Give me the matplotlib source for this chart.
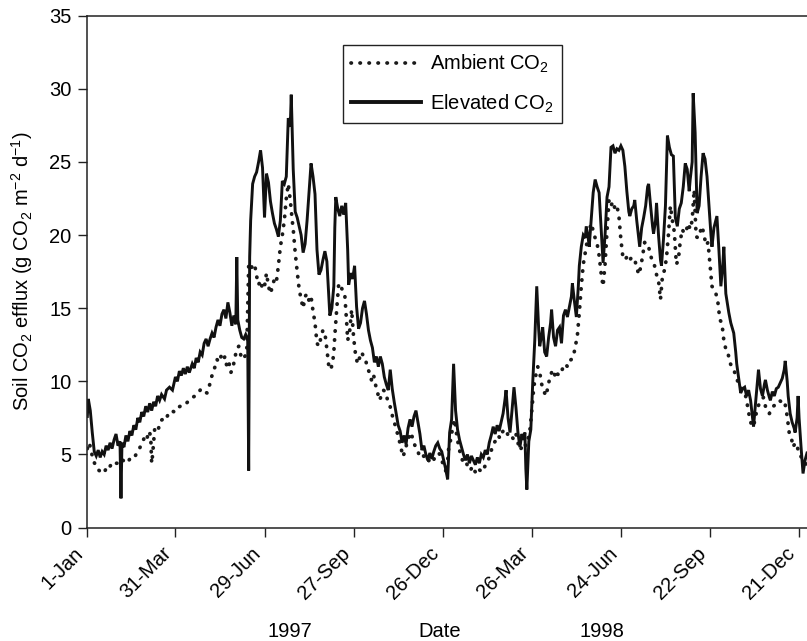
import matplotlib
matplotlib.use("Agg")
import matplotlib.pyplot as plt

plt.rcParams["font.family"] = ["Liberation Sans", "DejaVu Sans"]
plt.rcParams["mathtext.default"] = "regular"

# days since 1-Jan-1997
tick_days = [0, 89, 179, 269, 359, 449, 539, 629, 719]
tick_labels = ["1-Jan", "31-Mar", "29-Jun", "27-Sep", "26-Dec",
               "26-Mar", "24-Jun", "22-Sep", "21-Dec"]

elev_day = [0, 1, 3, 5, 7, 9, 11, 13, 15, 17, 19, 21, 23, 25, 27, 29, 31, 33, 34, 35,
            37, 39, 41, 43, 45, 47, 49, 51, 53, 55, 57, 59, 61, 63, 65, 67, 69, 71, 73, 75,
            78, 80, 83, 86, 89, 91, 93, 95, 97, 99, 101, 103, 106, 108, 110, 112, 114, 116, 118, 120,
            122, 124, 126, 128, 130, 132, 134, 136, 138, 140, 142, 144, 146, 148, 150, 151, 152, 154, 156, 158,
            160, 162, 163, 164, 165, 167, 169, 171, 173, 175, 177, 179, 181, 183, 185, 187, 189, 191, 193, 195,
            197, 199, 201, 203, 205, 206, 208, 210, 212, 214, 216, 218, 220, 222, 224, 226, 228, 230, 232, 234,
            236, 238, 240, 242, 244, 245, 247, 249, 250, 251, 253, 255, 257, 259, 261, 263, 264, 266, 268, 270,
            272, 274, 276, 278, 280, 282, 284, 286, 288, 290, 292, 294, 296, 298, 300, 302, 304, 306, 308, 310,
            312, 314, 316, 318, 320, 322, 324, 326, 328, 330, 332, 334, 336, 338, 340, 342, 344, 346, 348, 350,
            352, 354, 356, 358, 360, 362, 364, 366, 368, 370, 372, 374, 376, 378, 380, 382, 384, 386, 388, 390,
            392, 394, 396, 398, 400, 402, 404, 406, 408, 410, 412, 414, 416, 418, 420, 422, 423, 425, 427, 429,
            431, 433, 435, 437, 439, 441, 442, 443, 444, 446, 448, 450, 452, 454, 456, 457, 459, 460, 462, 464,
            466, 468, 469, 471, 473, 475, 477, 479, 481, 483, 485, 487, 489, 490, 492, 494, 496, 497, 499, 501,
            503, 504, 506, 507, 509, 511, 513, 515, 517, 519, 521, 523, 525, 527, 529, 531, 533, 535, 537, 539,
            541, 543, 545, 547, 548, 550, 552, 553, 555, 557, 558, 560, 562, 564, 566, 567, 569, 571, 572, 574,
            575, 577, 579, 580, 582, 584, 586, 588, 590, 592, 594, 596, 598, 600, 602, 604, 606, 608, 609, 611,
            612, 614, 616, 618, 620, 622, 624, 626, 628, 630, 631, 633, 636, 638, 640, 642, 643, 645, 648, 650,
            653, 655, 656, 658, 660, 662, 664, 666, 668, 670, 672, 673, 675, 677, 678, 680, 682, 684, 685, 687,
            689, 690, 692, 694, 696, 698, 700, 702, 704, 705, 707, 708, 710, 712, 714, 715, 717, 718, 719, 721,
            723, 725, 727]
elev_val = [7.6, 8.8, 8.0, 6.5, 5.2, 4.9, 5.3, 4.8, 5.2, 5.0, 5.6, 5.3, 5.8, 5.4, 6.0, 6.4, 5.6, 5.9, 2.0, 5.8,
            5.5, 6.3, 5.9, 6.6, 6.3, 7.0, 6.7, 7.5, 7.2, 7.9, 7.6, 8.3, 7.9, 8.5, 8.0, 8.6, 8.3, 9.0, 8.7, 9.1,
            8.8, 9.4, 9.6, 9.4, 10.3, 10.0, 10.7, 10.4, 10.9, 10.5, 11.0, 10.6, 11.2, 10.9, 11.6, 11.3, 12.0, 11.8, 12.6, 12.9,
            12.4, 12.9, 13.3, 13.0, 13.7, 14.2, 13.8, 14.6, 14.9, 14.3, 15.4, 14.7, 13.8, 14.5, 13.9, 18.5, 14.2, 13.5, 13.0, 12.9,
            13.2, 12.9, 3.9, 18.5, 21.0, 23.5, 24.0, 24.3, 25.0, 25.8, 24.6, 21.2, 24.2, 23.6, 22.3, 21.5, 20.8, 20.4, 19.9, 21.0,
            23.7, 23.5, 24.0, 28.0, 27.4, 29.6, 24.5, 21.6, 21.2, 20.6, 20.0, 18.8, 19.4, 21.0, 23.0, 24.9, 24.0, 22.8, 19.0, 17.3,
            17.6, 18.3, 18.9, 18.2, 15.8, 14.5, 15.0, 16.5, 20.5, 22.6, 21.8, 21.3, 22.0, 21.4, 22.2, 19.0, 16.6, 17.4, 17.0, 17.9,
            15.1, 13.6, 14.0, 15.0, 15.5, 14.6, 13.5, 12.8, 12.3, 11.3, 11.7, 11.0, 11.7, 11.2, 10.3, 9.8, 9.4, 10.8, 9.5, 8.6,
            7.8, 7.0, 6.6, 5.8, 6.3, 5.7, 6.8, 7.4, 6.9, 7.6, 8.0, 7.2, 6.4, 5.3, 5.6, 5.0, 4.6, 5.1, 4.7, 5.2,
            5.6, 5.8, 5.4, 5.2, 4.6, 4.0, 3.3, 6.5, 7.4, 11.2, 8.0, 6.7, 6.0, 5.5, 5.0, 4.6, 5.0, 4.4, 4.9, 4.6,
            4.3, 4.8, 4.4, 5.0, 4.8, 5.3, 5.0, 5.8, 6.3, 6.9, 6.4, 7.0, 6.6, 7.2, 7.8, 8.8, 9.4, 7.5, 6.5, 8.0,
            9.6, 8.2, 6.5, 5.5, 6.4, 6.0, 6.5, 4.0, 2.6, 5.9, 6.7, 10.0, 12.8, 16.5, 13.5, 12.4, 13.2, 13.7, 12.0, 11.7,
            13.0, 14.0, 14.9, 13.0, 12.4, 13.5, 13.7, 12.6, 14.5, 14.9, 14.4, 15.1, 15.8, 16.7, 15.5, 14.4, 16.5, 17.9, 19.2, 20.0,
            19.8, 20.6, 19.8, 19.2, 21.0, 22.9, 23.8, 23.3, 22.9, 20.5, 18.1, 20.0, 22.6, 23.3, 26.0, 26.1, 25.6, 25.9, 25.8, 26.1,
            25.8, 24.7, 23.0, 21.6, 21.3, 21.8, 22.0, 22.4, 21.0, 19.8, 19.2, 20.5, 21.2, 22.0, 23.3, 23.5, 22.0, 20.6, 20.1, 21.0,
            22.2, 20.0, 18.3, 17.9, 19.7, 22.0, 26.8, 26.0, 25.5, 25.4, 21.2, 20.6, 21.8, 22.2, 23.3, 24.9, 24.5, 23.0, 23.8, 25.0,
            29.7, 27.0, 21.5, 22.0, 24.0, 25.6, 25.2, 24.0, 22.0, 20.0, 19.2, 20.5, 21.3, 19.0, 16.5, 18.0, 19.2, 16.0, 14.7, 14.0,
            13.3, 12.0, 11.2, 10.2, 9.2, 9.5, 9.6, 9.0, 9.4, 8.7, 7.5, 6.9, 8.5, 10.0, 10.8, 9.5, 9.0, 9.8, 10.1, 9.4,
            8.9, 8.7, 9.3, 9.0, 9.5, 9.6, 9.9, 10.2, 10.8, 11.4, 10.0, 9.0, 7.8, 7.2, 6.8, 6.5, 7.5, 9.0, 7.5, 5.5,
            3.7, 4.6, 5.1]

amb_day = list(range(0, 64, 2)) + [64, 65, 66, 68, 70, 72, 74, 76, 78, 80, 82, 85, 88, 91, 94, 97, 100,
           103, 106, 109, 112, 115, 118, 121] + list(range(123, 208, 2)) + [208] + list(range(210, 250, 2)) + \
          [249, 250] + list(range(252, 262, 2)) + [262, 263] + list(range(265, 728, 2))
amb_val = [5.4, 5.8, 5.2, 4.6, 4.3, 4.0, 3.9, 3.8, 4.0, 3.9, 4.2, 4.1, 4.3, 4.2, 4.4, 4.4,
           4.5, 4.4, 4.6, 4.5, 4.7, 4.6, 4.8, 4.9, 4.85, 5.1, 5.3, 5.6, 5.9, 6.2, 6.0, 6.6,
           6.3, 4.4, 5.0, 6.7, 7.0, 6.8, 7.3, 7.4, 7.6, 7.5, 7.8, 8.0, 7.9, 8.2, 8.3, 8.5, 8.5,
           8.7, 8.9, 9.0, 9.2, 9.5, 9.3, 9.2,
           9.6, 10.2, 10.6, 11.0, 11.5, 11.3, 11.7, 11.4, 11.7, 11.0, 11.3, 10.6, 10.9, 11.6, 12.2, 12.4,
           11.8, 11.5, 11.7, 11.9, 17.9, 17.6, 18.0, 18.0, 17.2, 16.6, 16.9, 16.3, 16.5, 17.4, 16.5, 16.0,
           16.5, 17.0, 16.8, 17.9, 19.2, 20.0, 21.0, 22.5, 23.5, 22.4, 21.0,
           20.4,
           18.8, 17.5, 16.3, 15.6, 15.0, 15.8, 16.0, 15.5, 15.8, 14.8, 14.0, 12.6, 12.4, 13.0, 13.5, 13.3,
           12.2, 11.0, 10.8, 11.4,
           12.0, 13.1,
           15.0, 16.7, 16.5, 16.2, 16.0,
           14.0, 12.8,
           13.4, 14.9, 13.0, 11.8, 11.2, 11.6, 12.0, 11.7, 11.5, 10.9, 10.6, 10.1, 10.5, 9.8, 9.3, 8.7,
           9.0, 9.4, 9.3, 8.8, 8.5, 8.0, 7.4, 7.0, 6.5, 6.0, 5.4, 4.85, 5.3, 5.8, 6.2, 6.5,
           6.0, 5.6, 5.4, 5.0, 4.85, 5.0, 4.7, 4.5, 4.6, 4.4, 4.5, 4.8, 5.0, 5.1, 4.9, 4.4,
           4.1, 3.7, 5.4, 6.0, 6.8, 7.4, 6.4, 5.6, 5.0, 4.6, 4.3, 4.4, 4.1, 3.9, 4.2, 3.9,
           3.7, 4.0, 3.9, 4.2, 4.1, 4.4, 4.6, 5.0, 5.5, 5.8, 6.0, 6.3, 6.1, 6.5, 6.7, 6.7,
           6.3, 6.1, 6.2, 6.0, 6.4, 5.8, 5.3, 5.5, 5.8, 5.6, 6.0, 6.6, 8.0, 9.6, 10.4, 11.0,
           10.6, 9.8, 9.4, 9.0, 9.5, 10.2, 10.6, 10.8, 10.2, 10.5, 10.4, 10.7, 11.0, 11.2, 11.0, 11.4,
           11.5, 11.7, 12.4, 13.1, 14.7, 16.5, 18.0, 18.8, 19.6, 20.3, 20.8, 20.3, 19.8, 19.4, 18.6, 17.4,
           16.5, 18.0, 20.3, 22.4, 22.0, 22.3, 21.8, 22.0, 21.3, 19.7, 18.5, 18.3, 18.5, 18.2, 18.4, 18.5,
           18.3, 17.8, 17.3, 17.8, 18.6, 19.5, 19.2, 19.2, 18.6, 18.2, 17.9, 17.3, 16.9, 15.6, 17.2, 17.6,
           18.4, 20.0, 22.0, 21.0, 20.2, 18.0, 18.3, 19.6, 20.4, 20.1, 20.3, 20.8, 20.4, 21.0, 23.1, 19.9,
           19.8, 20.2, 20.6, 20.0, 19.3, 19.5, 18.0, 16.5, 16.3, 16.0, 15.4, 14.2, 14.0, 12.8, 12.2, 12.0,
           11.3, 11.0, 10.8, 10.4, 10.0, 9.6, 9.5, 9.3, 9.0, 8.3, 7.5, 7.0, 6.9, 7.6, 8.2, 8.5,
           8.7, 8.9, 8.3, 7.9, 7.8, 8.0, 8.3, 8.4, 8.5, 8.7, 8.6, 8.7, 8.4, 7.6, 6.5, 6.2,
           5.5, 5.8, 5.6, 5.0, 4.85, 4.5, 4.4, 4.3]

n = min(len(amb_day), len(amb_val))
amb_day, amb_val = amb_day[:n], amb_val[:n]

fig = plt.figure(figsize=(8.07, 6.41), dpi=100)
ax = fig.add_axes([0.1082, 0.1769, 0.8918, 0.7986])

ax.plot(amb_day, amb_val, color="#1a1a1a", linewidth=2.7,
        linestyle=(0, (0.1, 2.3)), dash_capstyle="round", label="Ambient CO$_2$")
ax.plot(elev_day, elev_val, color="#111111", linewidth=2.1,
        solid_joinstyle="miter", label="Elevated CO$_2$")

ax.set_xlim(0, 727)
ax.set_ylim(0, 35)
ax.set_yticks(range(0, 36, 5))
ax.set_xticks(tick_days)
ax.set_xticklabels(tick_labels, rotation=45, ha="right", fontsize=14.5)
ax.tick_params(axis="y", labelsize=14.5)
ax.tick_params(direction="out", length=6.5, width=1.0, color="#222", pad=5)

for side in ["top", "left", "bottom"]:
    ax.spines[side].set_linewidth(1.1)
    ax.spines[side].set_color("#222")
ax.spines["right"].set_visible(False)

ax.set_ylabel("Soil CO$_2$ efflux (g CO$_2$ m$^{-2}$ d$^{-1}$)", fontsize=14.5, labelpad=10)
ax.set_xlabel("Date", fontsize=14.5)
ax.xaxis.set_label_coords(0.49, -0.185)
ax.text(204.7, -0.185, "1997", transform=ax.get_xaxis_transform(),
        ha="center", va="top", fontsize=14.5)
ax.text(519.6, -0.185, "1998", transform=ax.get_xaxis_transform(),
        ha="center", va="top", fontsize=14.5)

leg = ax.legend(loc="upper left", bbox_to_anchor=(0.355, 0.943), borderaxespad=0,
                fontsize=14.5, handlelength=3.5, handletextpad=0.45,
                labelspacing=0.85, borderpad=0.4, fancybox=False, framealpha=1)
leg.get_frame().set_edgecolor("#222")
leg.get_frame().set_linewidth(1.0)
leg.get_lines()[1].set_linewidth(2.8)

fig.savefig("out.png", dpi=100)
